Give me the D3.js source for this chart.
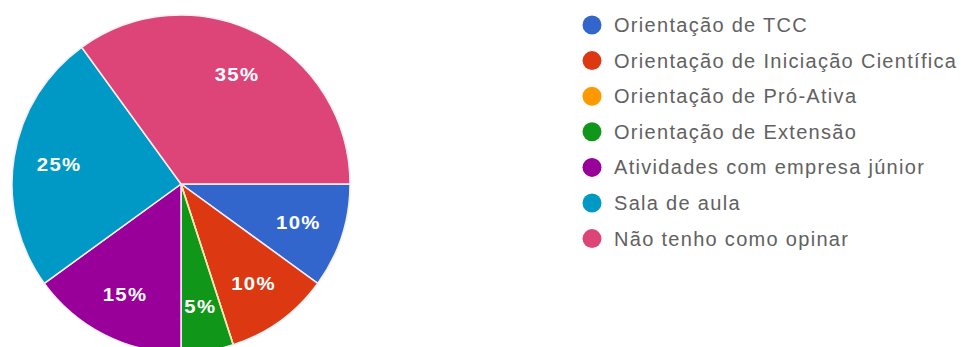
<!DOCTYPE html>
<html>
<head>
<meta charset="utf-8">
<script src="https://cdn.jsdelivr.net/npm/d3@7"></script>
<style>
  html, body { margin: 0; padding: 0; background: #ffffff; }
  svg { display: block; }
</style>
</head>
<body>
<svg id="chart" width="961" height="347"></svg>
<script>
// Response categories and their shares (percent)
const categories = [
  "Orientação de TCC",
  "Orientação de Iniciação Científica",
  "Orientação de Pró-Ativa",
  "Orientação de Extensão",
  "Atividades com empresa júnior",
  "Sala de aula",
  "Não tenho como opinar"
];
const values = [10, 10, 0, 5, 15, 25, 35];
const colors = ["#3366cc", "#dc3912", "#ff9900", "#109618", "#990099", "#0099c6", "#dd4477"];

const svg = d3.select("#chart");
const cx = 181, cy = 184, radius = 169;

const pie = d3.pie()
  .value(d => d.value)
  .sort(null)
  .startAngle(Math.PI / 2)
  .endAngle(Math.PI / 2 + 2 * Math.PI);

const data = categories.map((c, i) => ({ name: c, value: values[i], color: colors[i] }));
const arcs = pie(data);

const arc = d3.arc().innerRadius(0).outerRadius(radius);
const labelArc = d3.arc().innerRadius(radius * 0.73).outerRadius(radius * 0.73);

const g = svg.append("g").attr("transform", `translate(${cx},${cy})`);

g.selectAll("path.slice")
  .data(arcs.filter(a => a.data.value > 0))
  .join("path")
  .attr("class", "slice")
  .attr("d", arc)
  .attr("fill", d => d.data.color)
  .attr("stroke", "#f4eef6")
  .attr("stroke-width", 1.5);

// Empty categories collapse to a thin tinted seam on the pie
g.selectAll("path.empty")
  .data(arcs.filter(a => a.data.value === 0))
  .join("path")
  .attr("class", "empty")
  .attr("d", arc)
  .attr("fill", "none")
  .attr("stroke", "#f3e6a6")
  .attr("stroke-width", 1.6);

g.selectAll("text.pct")
  .data(arcs.filter(a => a.data.value > 0))
  .join("text")
  .attr("class", "pct")
  .attr("transform", d => `translate(${labelArc.centroid(d)}) scale(1.1,1)`)
  .attr("text-anchor", "middle")
  .attr("dominant-baseline", "central")
  .attr("font-family", "Liberation Sans, Arial, sans-serif")
  .attr("font-size", 18.5)
  .attr("font-weight", "bold")
  .attr("letter-spacing", 1.2)
  .attr("fill", "#ffffff")
  .text(d => d.data.value + "%");

// Legend
const legendX = 592, legendY = 25, legendStep = 35.6;
const legend = svg.append("g");
const rows = legend.selectAll("g.row")
  .data(data)
  .join("g")
  .attr("class", "row")
  .attr("transform", (d, i) => `translate(${legendX},${legendY + i * legendStep})`);

rows.append("circle")
  .attr("r", 9.5)
  .attr("fill", d => d.color);

rows.append("text")
  .attr("x", 22)
  .attr("dominant-baseline", "central")
  .attr("font-family", "Liberation Sans, Arial, sans-serif")
  .attr("font-size", 20)
  .attr("letter-spacing", 1.3)
  .attr("fill", "#616161")
  .text(d => d.name);
</script>
</body>
</html>
